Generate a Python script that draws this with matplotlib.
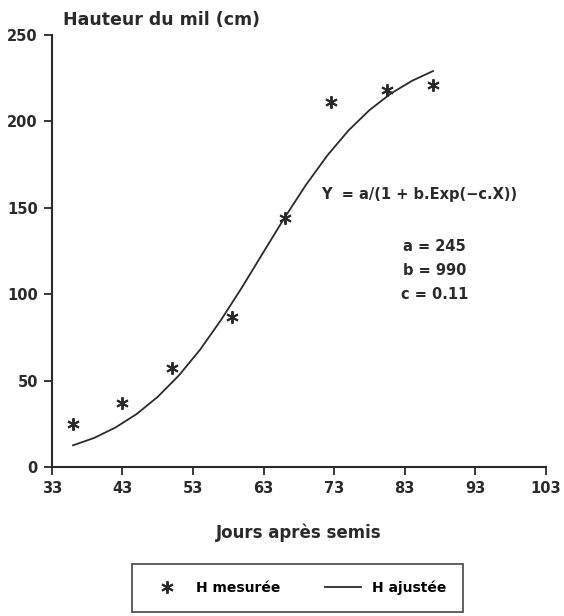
import matplotlib.pyplot as plt

# mesures (jours apres semis, hauteur en cm)
jours = [36, 43, 50, 58.5, 66, 72.5, 80.5, 87]
hauteur = [25, 37, 57, 87, 144, 211, 218, 221]

# courbe ajustee
jours_aj = [36, 39, 42, 45, 48, 51, 54, 57, 60, 63, 66, 69, 72, 75, 78, 81, 84, 87]
hauteur_aj = [12.5, 16.8, 22.8, 30.6, 40.6, 53, 67.9, 85.3, 104.4, 124.5,
              144.5, 163.3, 180.2, 194.7, 206.6, 216.1, 223.5, 229.2]

xticks = [33, 43, 53, 63, 73, 83, 93, 103]
yticks = [0, 50, 100, 150, 200, 250]

col = '#2a2a2a'
plt.rcParams['font.family'] = ['DejaVu Sans']
plt.rcParams['font.weight'] = 'bold'

fig = plt.figure(figsize=(5.64, 6.16), dpi=100)
ax = fig.add_axes([0.092, 0.242, 0.876, 0.701])

pts, = ax.plot(jours, hauteur, linestyle='none', marker=(6, 2, 0), markersize=9,
               markeredgewidth=1.4, color=col, label='H mesurée')
crb, = ax.plot(jours_aj, hauteur_aj, '-', color=col, lw=1.3, label='H ajustée')

ax.set_xlim(33, 103)
ax.set_ylim(0, 250)
ax.set_xticks(xticks)
ax.set_yticks(yticks)
ax.spines['top'].set_visible(False)
ax.spines['right'].set_visible(False)
for s in ['left', 'bottom']:
    ax.spines[s].set_linewidth(1.5)
    ax.spines[s].set_color(col)
ax.tick_params(direction='out', length=6, width=1.3, colors=col, labelsize=10.5, pad=4)
for lab in ax.get_xticklabels() + ax.get_yticklabels():
    lab.set_fontweight('bold')

ax.set_xlabel('Jours après semis', fontsize=12, fontweight='bold', color=col, labelpad=20)
fig.text(0.112, 0.96, 'Hauteur du mil (cm)', fontsize=12.5, fontweight='bold', color=col)

ax.text(0.545, 0.63, 'Y  = a/(1 + b.Exp(−c.X))', transform=ax.transAxes,
        fontsize=10.5, fontweight='bold', color=col, va='center')
ax.text(0.775, 0.456, 'a = 245\nb = 990\nc = 0.11', transform=ax.transAxes,
        fontsize=10.5, fontweight='bold', color=col, ha='center', va='center',
        linespacing=1.75)

leg = fig.legend(handles=[pts, crb], loc='center', bbox_to_anchor=(0.528, 0.046),
                 ncol=2, frameon=True, fancybox=False, edgecolor=col,
                 prop={'size': 10, 'weight': 'bold'}, handlelength=2.6,
                 columnspacing=3.2, borderpad=1.2, borderaxespad=0)
leg.get_frame().set_linewidth(1.3)

fig.savefig('out.png', dpi=100)
